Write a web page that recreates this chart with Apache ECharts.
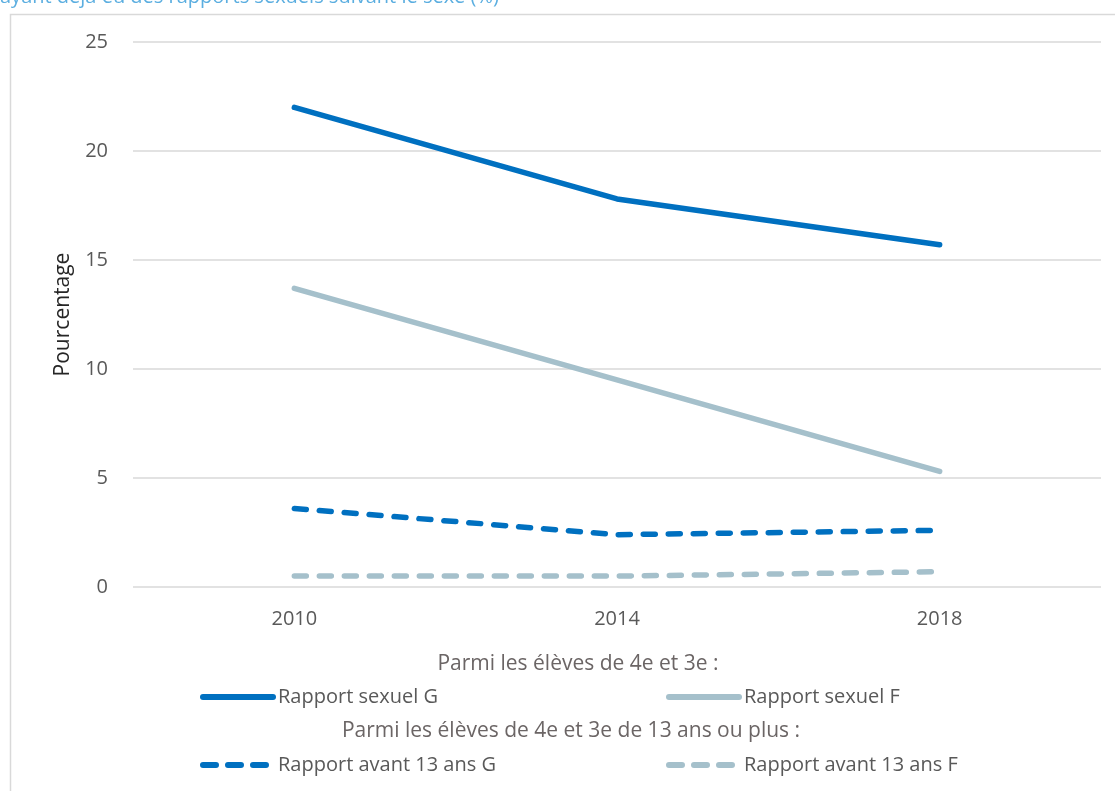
<!DOCTYPE html>
<html><head><meta charset="utf-8">
<script src="https://cdn.jsdelivr.net/npm/echarts@6/dist/echarts.min.js"></script>
<style>html,body{margin:0;padding:0;background:#fff}#c{width:1115px;height:791px}</style>
</head><body><div id="c"></div>
<script>
const years = ['2010', '2014', '2018'];
const rapportG = [22.0, 17.8, 15.7];
const rapportF = [13.7, 9.5, 5.3];
const avant13G = [3.6, 2.4, 2.6];
const avant13F = [0.5, 0.5, 0.7];
const yTicks = [0, 5, 10, 15, 20, 25];

const FONT = '"Open Sans", "Noto Sans", sans-serif';
const BLUE = '#0070C0', GREY = '#A5C0CB';
const chart = echarts.init(document.getElementById('c'));

function legendAt(name, left, top, dashed) {
  return {
    data: [{name: name}], left: left, top: top, orient: 'horizontal',
    itemWidth: 70, itemHeight: 8, padding: 0, selectedMode: false,
    itemStyle: {opacity: 0},
    lineStyle: {width: 6, cap: 'round', type: dashed ? [13, 12] : 'solid'},
    textStyle: {fontFamily: FONT, fontSize: 20, color: '#595959'}
  };
}

chart.setOption({
  animation: false,
  graphic: [
    {type: 'rect', shape: {x: 10.5, y: 14.5, width: 1200, height: 900}, style: {fill: 'none', stroke: '#D9D9D9', lineWidth: 1.5}, silent: true, z: -1},
    {type: 'text', x: 0, y: -3, style: {text: 'ayant déjà eu des rapports sexuels suivant le sexe (%)', fontFamily: FONT, fontSize: 20, fill: '#5BAEE0', verticalAlign: 'middle'}},
    {type: 'text', x: 578, y: 664, style: {text: 'Parmi les élèves de 4e et 3e :', fontFamily: FONT, fontSize: 21, fill: '#6b6565', align: 'center', verticalAlign: 'middle'}},
    {type: 'text', x: 571, y: 731, style: {text: 'Parmi les élèves de 4e et 3e de 13 ans ou plus :', fontFamily: FONT, fontSize: 21, fill: '#6b6565', align: 'center', verticalAlign: 'middle'}}
  ],
  grid: {left: 133, right: 14, top: 42, bottom: 204},
  legend: [
    legendAt('Rapport sexuel G', 200, 687, false),
    legendAt('Rapport sexuel F', 666, 687, false),
    legendAt('Rapport avant 13 ans G', 200, 755, true),
    legendAt('Rapport avant 13 ans F', 666, 755, true)
  ],
  xAxis: {
    type: 'category', data: years, boundaryGap: true,
    axisLine: {show: false}, axisTick: {show: false},
    axisLabel: {fontFamily: FONT, fontSize: 20, color: '#595959', margin: 22}
  },
  yAxis: {
    type: 'value', min: yTicks[0], max: yTicks[yTicks.length - 1], interval: 5,
    name: 'Pourcentage', nameLocation: 'middle', nameGap: 59, nameRotate: 90,
    nameTextStyle: {fontFamily: FONT, fontSize: 21, color: '#262626'},
    axisLine: {show: false}, axisTick: {show: false},
    axisLabel: {fontFamily: FONT, fontSize: 20, color: '#595959', margin: 25},
    splitLine: {lineStyle: {color: '#D9D9D9', width: 1.5}}
  },
  series: [
    {name: 'Rapport sexuel G', type: 'line', data: rapportG, symbol: 'none', color: BLUE,
     lineStyle: {color: BLUE, width: 5.5, cap: 'round'}},
    {name: 'Rapport sexuel F', type: 'line', data: rapportF, symbol: 'none', color: GREY,
     lineStyle: {color: GREY, width: 5.5, cap: 'round'}},
    {name: 'Rapport avant 13 ans G', type: 'line', data: avant13G, symbol: 'none', color: BLUE,
     lineStyle: {color: BLUE, width: 5.5, type: [12, 13], cap: 'round'}},
    {name: 'Rapport avant 13 ans F', type: 'line', data: avant13F, symbol: 'none', color: GREY,
     lineStyle: {color: GREY, width: 5.5, type: [12, 13], cap: 'round'}}
  ]
});
</script></body></html>
